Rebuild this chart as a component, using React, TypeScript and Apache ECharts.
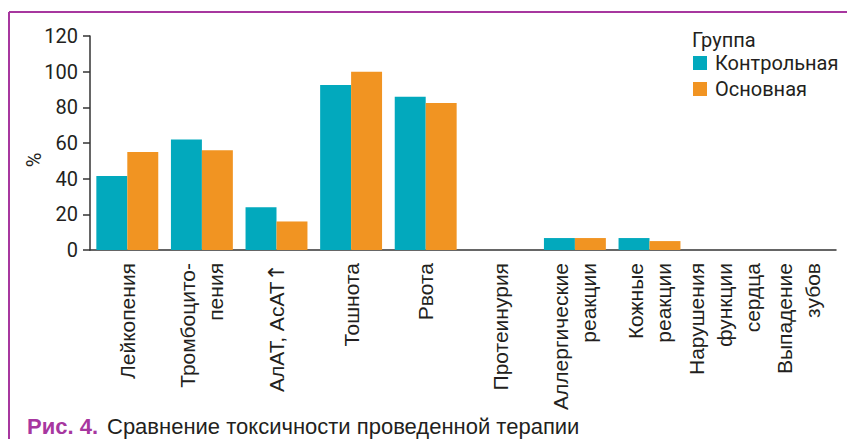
import React, { useEffect, useRef } from "react";
import * as echarts from "echarts";

const categories = [
  "Лейкопения",
  "Тромбоцито-\nпения",
  "АлАТ, АсАТ↑",
  "Тошнота",
  "Рвота",
  "Протеинурия",
  "Аллергические\nреакции",
  "Кожные\nреакции",
  "Нарушения\nфункции\nсердца",
  "Выпадение\nзубов",
];
const controlValues = [41.5, 62, 24, 92.5, 86, 0, 6.7, 6.7, 0, 0];
const mainValues = [55, 56, 16, 100, 82.5, 0, 6.7, 5, 0, 0];
const seriesNames = ["Контрольная", "Основная"];
const legendTitle = "Группа";
const yTicks = { min: 0, max: 120, interval: 20 };
const yName = "%";
const captionBold = "Рис. 4.";
const captionText = "Сравнение токсичности проведенной терапии";

const CYAN = "#02a9bd";
const ORANGE = "#f19422";
const PURPLE = "#a7379f";
const TEXT = "#231f20";
const AXIS = "#333333";

export default function App() {
  const ref = useRef<HTMLDivElement>(null);
  useEffect(() => {
    if (!ref.current) return;
    const chart = echarts.init(ref.current, null, { renderer: "svg" });
    chart.setOption({
      animation: false,
      backgroundColor: "#ffffff",
      grid: { left: 90, right: 11, top: 36, bottom: 189, containLabel: false },
      title: {
        text: legendTitle,
        left: 692,
        top: 30,
        padding: 0,
        textStyle: { fontFamily: "Roboto", fontSize: 20, fontWeight: "normal", color: TEXT },
      },
      legend: {
        orient: "vertical",
        left: 693,
        top: 53,
        padding: 0,
        itemWidth: 14,
        itemHeight: 14,
        itemGap: 6,
        icon: "rect",
        data: seriesNames,
        textStyle: { fontFamily: "Roboto", fontSize: 20, color: TEXT, padding: [0, 0, 0, 3] },
      },
      xAxis: {
        type: "category",
        data: categories,
        axisLine: { lineStyle: { color: AXIS, width: 1.5 } },
        axisTick: { length: 8, lineStyle: { color: AXIS, width: 1.5 } },
        axisLabel: {
          rotate: 90,
          interval: 0,
          margin: 13,
          fontFamily: "Liberation Sans",
          fontSize: 21,
          lineHeight: 28,
          color: TEXT,
          formatter: (v: string) => v.replace("↑", "{a|↑}"),
          rich: {
            a: { fontFamily: "DejaVu Sans", fontSize: 22, color: TEXT },
          },
        },
      },
      yAxis: {
        type: "value",
        min: yTicks.min,
        max: yTicks.max,
        interval: yTicks.interval,
        splitLine: { show: false },
        axisLine: { show: true, lineStyle: { color: AXIS, width: 1.5 } },
        axisTick: { show: true, length: 7, lineStyle: { color: AXIS, width: 1.5 } },
        axisLabel: { margin: 12, fontFamily: "Roboto", fontSize: 20, color: TEXT },
      },
      series: [
        {
          name: seriesNames[0],
          type: "bar",
          data: controlValues,
          itemStyle: { color: CYAN },
          barGap: "0%",
          barCategoryGap: "17%",
        },
        {
          name: seriesNames[1],
          type: "bar",
          data: mainValues,
          itemStyle: { color: ORANGE },
          barGap: "0%",
          barCategoryGap: "17%",
        },
      ],
      graphic: [
        {
          type: "line",
          shape: { x1: 9, y1: 12, x2: 847, y2: 12 },
          style: { stroke: PURPLE, lineWidth: 2 },
        },
        {
          type: "line",
          shape: { x1: 9, y1: 12, x2: 9, y2: 439 },
          style: { stroke: PURPLE, lineWidth: 2 },
        },
        {
          type: "text",
          x: 34,
          y: 160,
          rotation: Math.PI / 2,
          style: {
            text: yName,
            fill: TEXT,
            font: "20px Roboto",
            align: "center",
            verticalAlign: "middle",
          },
        },
        {
          type: "text",
          left: 27,
          top: 415,
          style: {
            text: captionBold,
            fill: PURPLE,
            font: "bold 22px 'Liberation Sans'",
          },
        },
        {
          type: "text",
          left: 107,
          top: 415,
          style: {
            text: captionText,
            fill: TEXT,
            font: "22px 'Liberation Sans'",
          },
        },
      ],
    });
    return () => chart.dispose();
  }, []);
  return <div ref={ref} style={{ width: 847, height: 439, position: "absolute", left: 0, top: 0 }} />;
}
